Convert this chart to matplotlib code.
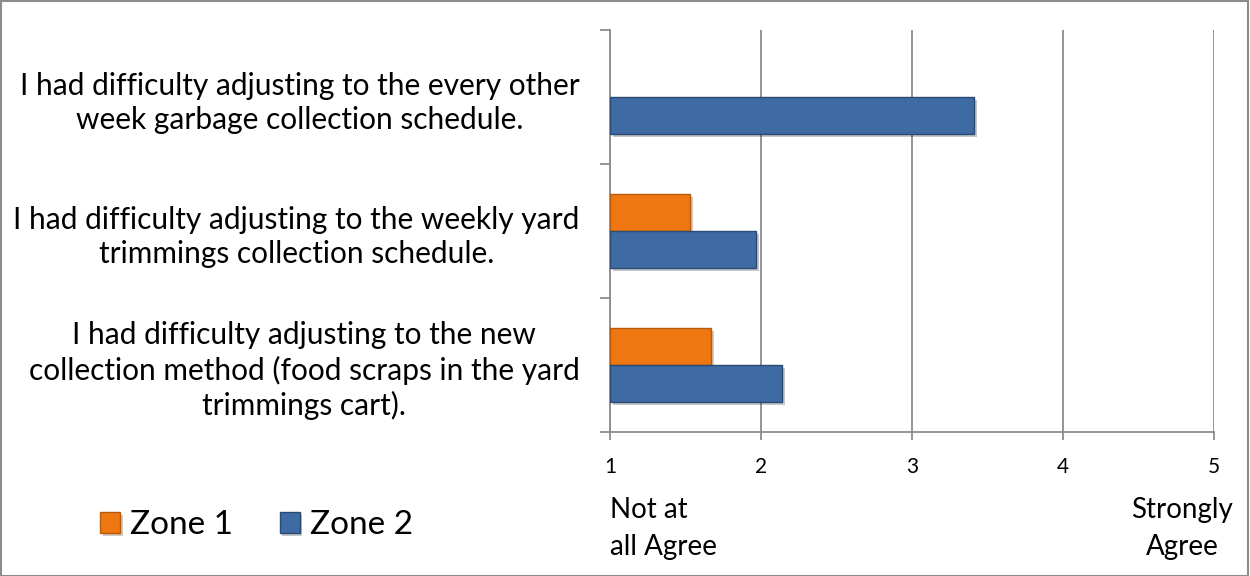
import matplotlib
matplotlib.use("Agg")
import matplotlib.pyplot as plt
import matplotlib.patheffects as pe
import numpy as np
from matplotlib.patches import Rectangle

plt.rcParams['font.family'] = ['Lato', 'DejaVu Sans']

# questions, bottom to top
questions = [
    "I had difficulty adjusting to the new\ncollection method (food scraps in the yard\ntrimmings cart).",
    "I had difficulty adjusting to the weekly yard\ntrimmings collection schedule.",
    "I had difficulty adjusting to the every other\nweek garbage collection schedule.",
]
zone1 = [1.67, 1.53, np.nan]
zone2 = [2.14, 1.97, 3.41]
ticks = [1, 2, 3, 4, 5]

orange = '#EF7711'
orange_edge = '#B85A0B'
blue = '#3E6BA3'
blue_edge = '#2A4A72'
grid_col = '#8C8C8C'

fig = plt.figure(figsize=(12.5, 5.76), dpi=100)
ax = fig.add_axes([610 / 1250, 1 - 432 / 576, 604 / 1250, 402 / 576])

shadow = [pe.SimplePatchShadow(offset=(2, -2), alpha=0.25), pe.Normal()]
y = np.arange(len(questions))
h = 0.276
b1 = ax.barh(y + h / 2, np.array(zone1) - 1, height=h, left=1, color=orange,
             edgecolor=orange_edge, linewidth=1, label='Zone 1', zorder=3)
b2 = ax.barh(y - h / 2, np.array(zone2) - 1, height=h, left=1, color=blue,
             edgecolor=blue_edge, linewidth=1, label='Zone 2', zorder=3)
for bar in list(b1) + list(b2):
    bar.set_path_effects(shadow)

ax.set_xlim(1, 5)
ax.set_ylim(-0.5, len(questions) - 0.5)
ax.set_xticks(ticks)
ax.set_xticklabels([str(t) for t in ticks], fontsize=15)
ax.grid(axis='x', color=grid_col, linewidth=1.3, zorder=0)
ax.tick_params(axis='x', direction='out', length=6, width=1.3, color=grid_col, pad=12)

ax.set_yticks(y)
ax.set_yticklabels(questions, fontsize=21.5, multialignment='center', linespacing=1.27)
ax.set_yticks(np.arange(-0.5, len(questions)), minor=True)
ax.tick_params(axis='y', which='major', length=0, pad=22)
ax.tick_params(axis='y', which='minor', length=7, width=1.3, color=grid_col)

for s in ['top', 'right']:
    ax.spines[s].set_visible(False)
for s in ['left', 'bottom']:
    ax.spines[s].set_color(grid_col)
    ax.spines[s].set_linewidth(1.3)

trans = ax.get_xaxis_transform()
ax.text(1, -0.24, "Not at\nall Agree", transform=trans, ha='left', va='center',
        fontsize=20, linespacing=1.5)
ax.text(4.79, -0.24, "Strongly\nAgree", transform=trans, ha='center', va='center',
        fontsize=20, linespacing=1.5)

fig.legend(handles=[b1, b2], loc='center', bbox_to_anchor=(0.205, 0.088),
           ncol=2, frameon=False, fontsize=24, handlelength=0.6, handleheight=0.6,
           handletextpad=0.3, columnspacing=1.4)

fig.patches.append(Rectangle((0.0005, 0.0005), 0.998, 0.998, transform=fig.transFigure,
                             fill=False, edgecolor='#8C8C8C', linewidth=1.5))

fig.savefig('out.png', dpi=100)
